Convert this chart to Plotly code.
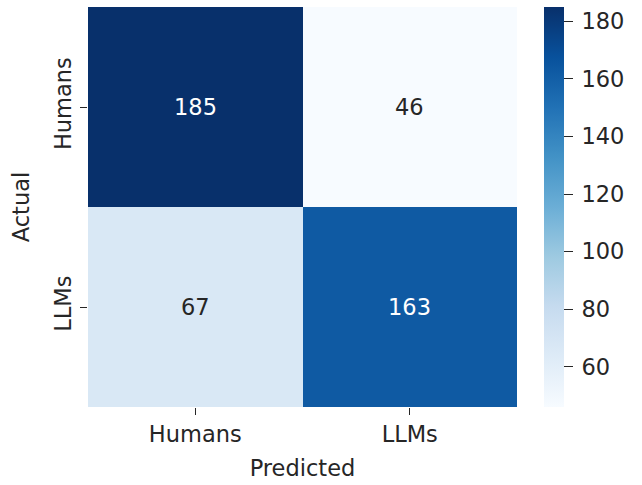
import plotly.graph_objects as go

pred_labels = ["Humans", "LLMs"]
actual_labels = ["Humans", "LLMs"]
counts = [[185, 46],
          [67, 163]]

blues = ["#f7fbff", "#deebf7", "#c6dbef", "#9ecae1", "#6baed6",
         "#4292c6", "#2171b5", "#08519c", "#08306b"]
colorscale = [[i / (len(blues) - 1), c] for i, c in enumerate(blues)]

FONT = "DejaVu Sans"
TXT = "#262626"
FS = 22.5

zmin = min(min(r) for r in counts)
zmax = max(max(r) for r in counts)

fig = go.Figure(go.Heatmap(
    z=counts, x=pred_labels, y=actual_labels,
    colorscale=colorscale, zmin=zmin, zmax=zmax,
    xgap=0, ygap=0,
    colorbar=dict(
        thickness=20, len=1, lenmode="fraction", x=1.0628, xanchor="left",
        y=0.5, yanchor="middle", outlinewidth=0, xpad=0, ypad=0,
        tick0=0, dtick=20, ticks="outside", ticklen=9, tickwidth=1.2,
        tickprefix="\u2009",
        tickcolor=TXT, tickfont=dict(family=FONT, size=FS, color=TXT),
    ),
    hoverinfo="skip",
))

for i, a in enumerate(actual_labels):
    for j, p in enumerate(pred_labels):
        v = counts[i][j]
        frac = (v - zmin) / (zmax - zmin)
        fig.add_annotation(x=p, y=a, text=str(v), showarrow=False,
                           font=dict(family=FONT, size=FS,
                                     color="white" if frac > 0.5 else TXT))

fig.update_xaxes(
    title=dict(text="Predicted", font=dict(family=FONT, size=FS, color=TXT), standoff=14),
    ticks="outside", ticklen=7, tickwidth=1.2, tickcolor=TXT,
    tickfont=dict(family=FONT, size=FS, color=TXT),
    showgrid=False, zeroline=False, showline=False,
)
fig.update_yaxes(
    title=dict(text="Actual", font=dict(family=FONT, size=FS, color=TXT), standoff=14),
    ticks="outside", ticklen=7, tickwidth=1.2, tickcolor=TXT,
    tickfont=dict(family=FONT, size=FS, color=TXT), tickangle=-90,
    autorange="reversed",
    showgrid=False, zeroline=False, showline=False,
)
fig.update_layout(
    width=642, height=485,
    margin=dict(l=88, r=125, t=7, b=78),
    plot_bgcolor="white", paper_bgcolor="white",
)
fig.write_html("out.html")
